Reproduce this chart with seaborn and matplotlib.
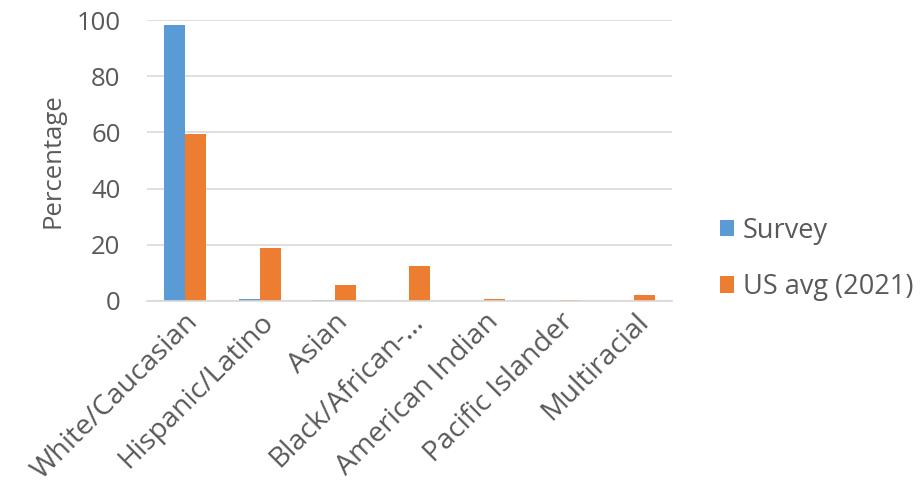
import matplotlib
matplotlib.use("Agg")
import matplotlib.pyplot as plt
import seaborn as sns
import pandas as pd

categories = ["White/Caucasian", "Hispanic/Latino", "Asian", "Black/African-…",
              "American Indian", "Pacific Islander", "Multiracial"]
survey = [98.2, 0.7, 0.5, 0.0, 0.0, 0.0, 0.0]
us_avg = [59.3, 18.7, 5.8, 12.4, 0.7, 0.2, 2.0]
series_names = ["Survey", "US avg (2021)"]

df = pd.DataFrame({
    "Category": categories * 2,
    "Value": survey + us_avg,
    "Series": [series_names[0]] * len(categories) + [series_names[1]] * len(categories),
})

sns.set_theme(style="white")
plt.rcParams["font.family"] = ["Open Sans", "DejaVu Sans"]

fig = plt.figure(figsize=(9.23, 4.96), dpi=100)
ax = fig.add_axes([147/923, 1 - 301/496, (672-147)/923, (301-20)/496])

sns.barplot(data=df, x="Category", y="Value", hue="Series",
            palette=["#5B9BD5", "#ED7D31"], width=0.56, saturation=1,
            linewidth=0, ax=ax)

ax.set_ylim(0, 100)
ax.set_yticks([0, 20, 40, 60, 80, 100])
ax.yaxis.grid(True, color="#D9D9D9", linewidth=1.2)
ax.set_axisbelow(True)
for s in ["left", "right", "top"]:
    ax.spines[s].set_visible(False)
ax.spines["bottom"].set_color("#D9D9D9")
ax.spines["bottom"].set_linewidth(1.2)
ax.tick_params(axis="x", length=0, labelsize=20.5, colors="#595959", pad=5)
ax.tick_params(axis="y", length=0, labelsize=18.5, colors="#595959", pad=19)
ax.set_xlabel("")
ax.set_ylabel("Percentage", fontsize=18.5, color="#595959", labelpad=8)
plt.setp(ax.get_xticklabels(), rotation=45, ha="right", rotation_mode="anchor")
for lbl in ax.get_xticklabels():
    lbl.set_x(lbl.get_position()[0])

leg = ax.legend(loc="center left", bbox_to_anchor=(1.07, 0.15), frameon=False,
                fontsize=19.5, handlelength=0.55, handleheight=0.55, labelspacing=1.05,
                handletextpad=0.3, borderaxespad=0)
for t in leg.get_texts():
    t.set_color("#595959")

fig.savefig("out.png", dpi=100)
